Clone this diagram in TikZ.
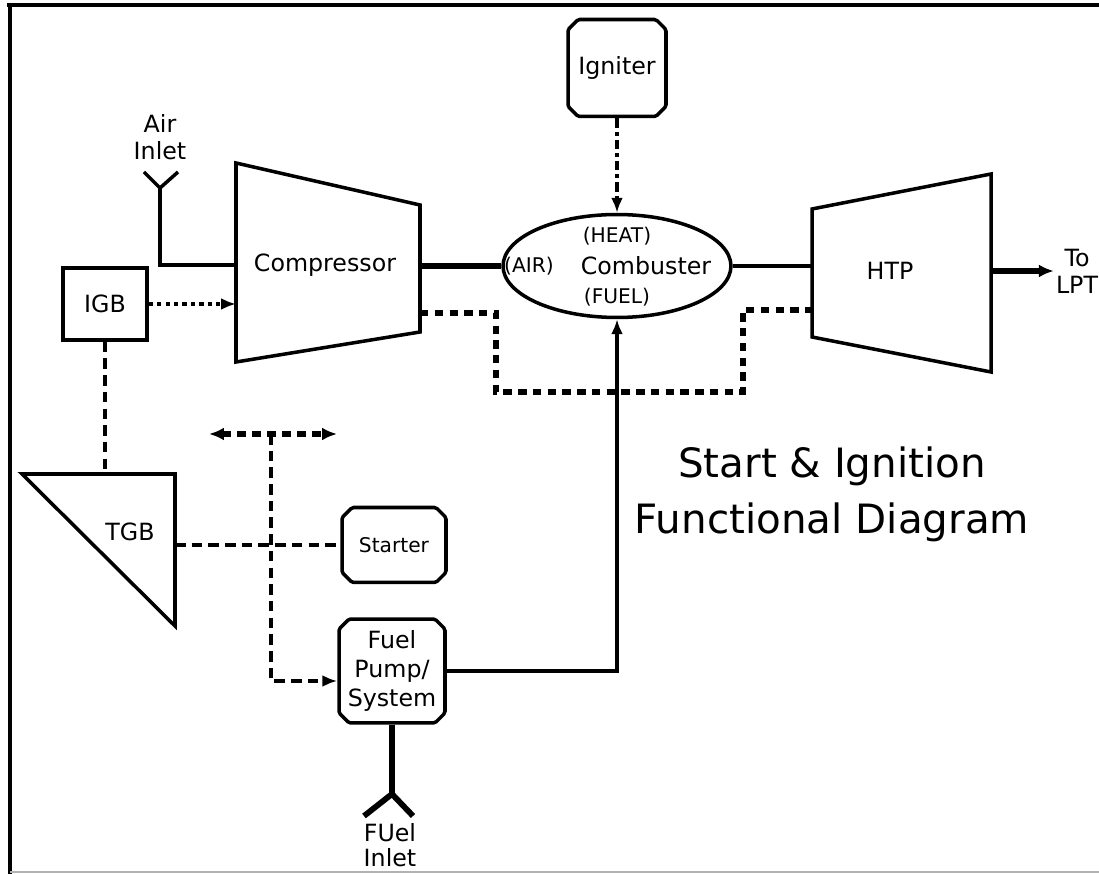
\documentclass[tikz,border=0pt]{standalone}
\usepackage{fontspec}
\setmainfont{DejaVu Sans}
\usetikzlibrary{arrows.meta,positioning,shapes.geometric,shapes.misc,calc}
\tikzset{
  box/.style={draw,line width=2pt,align=center,inner sep=2pt,font=\fontsize{13.5}{16.5}\selectfont},
  cbox/.style={box,chamfered rectangle,chamfered rectangle xsep=1mm,chamfered rectangle ysep=1mm,rounded corners=1pt},
  lbl/.style={align=center,inner sep=1pt,font=\fontsize{13.5}{15.5}\selectfont},
  small/.style={lbl,font=\fontsize{11.5}{12}\selectfont},
  part/.style={line width=2pt,line join=miter},
  ln/.style={line width=2pt},
  heavy/.style={line width=3.3pt},
  ar/.style={ln,-{Latex[length=3mm,width=2.4mm]}},
  heavyar/.style={heavy,-{Latex[length=3mm,width=2.6mm]}},
  dashln/.style={ln,dash pattern=on 6pt off 3.5pt},
  dashar/.style={dashln,-{Latex[length=3mm,width=2.4mm]}},
  dotar/.style={ln,dash pattern=on 2.4pt off 2.4pt,-{Latex[length=3mm,width=2.4mm]}},
  dashdotar/.style={ln,dash pattern=on 5.5pt off 2.2pt on 2.2pt off 2.2pt,-{Latex[length=3mm,width=2.4mm]}},
  loopln/.style={line width=3pt,dash pattern=on 4.8pt off 3.6pt},
}
\begin{document}
\begin{tikzpicture}[x=0.02cm,y=-0.02cm]
  \useasboundingbox (0,0) rectangle (1099,874);
  % frame
  \draw[line width=2.4pt] (7,5) -- (1099,5);
  \draw[line width=2.4pt] (10,3) -- (10,874);
  \draw[gray!60,line width=1.2pt] (10,872) -- (1099,872);
  % compressor, turbine, gearbox outlines
  \coordinate (cmp-nw) at (236,163);\coordinate (cmp-ne) at (420,205);
  \coordinate (cmp-se) at (420,332);\coordinate (cmp-sw) at (236,362);
  \coordinate (htp-nw) at (812,209);\coordinate (htp-ne) at (991,174);
  \coordinate (htp-se) at (991,372);\coordinate (htp-sw) at (812,337);
  \coordinate (tgb-nw) at (22,474);\coordinate (tgb-ne) at (175,474);
  \coordinate (tgb-se) at (175,626);
  \draw[part] (cmp-nw) -- (cmp-ne) -- (cmp-se) -- (cmp-sw) -- cycle;
  \draw[part] (htp-nw) -- (htp-ne) -- (htp-se) -- (htp-sw) -- cycle;
  \draw[part] (tgb-nw) -- (tgb-ne) -- (tgb-se) -- cycle;
  \node[lbl] (cmp) at (325,265) {Compressor};
  \node[lbl] (htp) at (890,271) {HTP};
  \node[lbl] (tgb) at (130,532) {TGB};
  % blocks
  \node[cbox,minimum width=1.96cm,minimum height=1.94cm] (igniter) at (617,68) {Igniter};
  \node[box,ellipse,minimum width=4.56cm,minimum height=2.06cm] (comb) at (617,266) {};
  \node[small] (heat) at (617,236) {(HEAT)};
  \node[small] (air) at (529,266) {(AIR)};
  \node[lbl] (combtxt) at (646,266) {Combuster};
  \node[small] (fuel) at (617,297) {(FUEL)};
  \node[box,minimum width=1.68cm,minimum height=1.44cm] (igb) at (105,304) {IGB};
  \node[cbox,font=\fontsize{11.5}{13}\selectfont,minimum width=2.08cm,minimum height=1.5cm] (starter) at (394,545) {Starter};
  \node[cbox,inner sep=0pt,minimum width=2.12cm,minimum height=2.08cm] (pump) at (392,671) {Fuel\\Pump/\\System};
  \node[lbl] (airin) at (160,137) {Air\\Inlet};
  \node[lbl,font=\fontsize{13.5}{14.5}\selectfont] (fuelin) at (390,845) {FUel\\Inlet};
  \node[lbl] (lpt) at (1077,271) {To\\LPT};
  \node[align=center,font=\fontsize{23}{32}\selectfont] (ttl) at (832,494) {Start \& Ignition\\Functional Diagram};
  % air and fuel inlets
  \coordinate (cmp-in) at (236,265);\coordinate (air-y) at (160,188);
  \draw[ln] (cmp-in) -| (air-y);
  \draw[ln] (144,172) -- (air-y) -- (178,172);
  \coordinate (fuel-y) at (392,794);
  \draw[heavy] (pump.south) -- (fuel-y);
  \draw[heavy,line join=round] (364,816) -- (fuel-y) -- (413,816);
  % flow path
  \draw[heavy] (cmp-ne |- comb.west) -- (comb.west);
  \draw[ln] (comb.east) -- (comb.east -| htp-nw);
  \coordinate (htp-out) at (991,271);
  \draw[heavyar] (htp-out) -- (lpt.west);
  \draw[dashdotar] (igniter.south) -- (comb.north);
  \draw[ar] (pump.east) -| (comb.south);
  \coordinate (cmp-tap) at (420,313);\coordinate (htp-tap) at (812,310);
  \draw[loopln] (cmp-tap) -- (496,313) -- (496,392) -- (743,392) -- (743,310) -- (htp-tap);
  % gearbox drives
  \draw[dotar] (igb.east) -- (igb.east -| cmp-nw);
  \draw[dashln] (igb.south) -- (igb.south |- tgb-nw);
  \draw[dashln] (tgb-ne |- starter.west) -- (starter.west);
  \coordinate (br) at (271,434);\coordinate (br-l) at (209,434);\coordinate (br-r) at (337,434);
  \draw[heavy,dash pattern=on 5pt off 3.5pt,{Latex[length=3mm,width=2.6mm]}-{Latex[length=3mm,width=2.6mm]}] (br-l) -- (br-r);
  \draw[dashar] (br) |- ([yshift=-2mm]pump.west);
\end{tikzpicture}
\end{document}
